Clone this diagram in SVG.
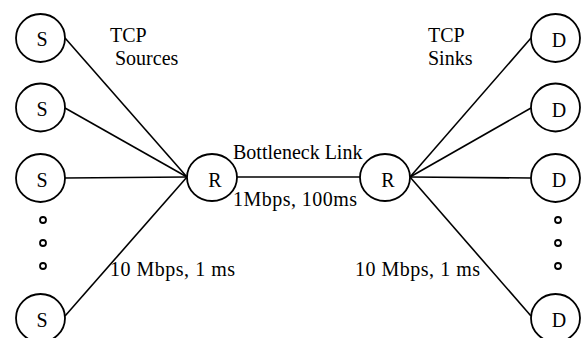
<svg xmlns="http://www.w3.org/2000/svg" width="581" height="338" viewBox="0 0 581 338">
<style>
.n{fill:#fff;stroke:#000;stroke-width:1.8}
.d{fill:#fff;stroke:#000;stroke-width:1.8}
.e{stroke:#000;stroke-width:1.6;fill:none}
.t{font-family:'Liberation Serif','Times New Roman','DejaVu Serif',serif;font-size:20px;fill:#000}
.c{text-anchor:middle}
</style>
<rect width="581" height="338" fill="#fff"/>
<g id="connectors">
<line class="e" x1="65" y1="38" x2="187" y2="177"/>
<line class="e" x1="65" y1="108" x2="187" y2="177"/>
<line class="e" x1="65" y1="178" x2="187" y2="177"/>
<line class="e" x1="65" y1="316" x2="187" y2="177"/>
<line class="e" x1="237" y1="177" x2="360" y2="177"/>
<line class="e" x1="410" y1="177" x2="531" y2="38"/>
<line class="e" x1="410" y1="177" x2="531" y2="108"/>
<line class="e" x1="410" y1="177" x2="531" y2="178"/>
<line class="e" x1="410" y1="177" x2="531" y2="316"/>
</g>
<g class="t" font-family="Liberation Serif, serif">
<g id="s1"><ellipse class="n" cx="40.5" cy="38" rx="24.5" ry="24"/><text class="c" x="42" y="46">S</text></g>
<g id="s2"><ellipse class="n" cx="40.5" cy="107.5" rx="24.5" ry="24"/><text class="c" x="42" y="116">S</text></g>
<g id="s3"><ellipse class="n" cx="40.5" cy="178" rx="24.5" ry="24"/><text class="c" x="42" y="186.5">S</text></g>
<g id="s4"><ellipse class="n" cx="40.5" cy="318" rx="24.5" ry="24"/><text class="c" x="42" y="326.5">S</text></g>
<g id="dots-left">
<circle class="d" cx="43" cy="220" r="3"/>
<circle class="d" cx="43" cy="243" r="3"/>
<circle class="d" cx="43" cy="266" r="3"/>
</g>
<g id="r1"><ellipse class="n" cx="212" cy="177.5" rx="25" ry="23.5"/><text class="c" x="215" y="186.5">R</text></g>
<g id="r2"><ellipse class="n" cx="385" cy="177.5" rx="25" ry="23.5"/><text class="c" x="388" y="186.5">R</text></g>
<g id="d1"><ellipse class="n" cx="555.5" cy="38" rx="24.5" ry="24"/><text class="c" x="559" y="46.5">D</text></g>
<g id="d2"><ellipse class="n" cx="555.5" cy="107.5" rx="24.5" ry="24"/><text class="c" x="559" y="116.5">D</text></g>
<g id="d3"><ellipse class="n" cx="555.5" cy="178" rx="24.5" ry="24"/><text class="c" x="559" y="187">D</text></g>
<g id="d4"><ellipse class="n" cx="555.5" cy="318" rx="24.5" ry="24"/><text class="c" x="559" y="327">D</text></g>
<g id="dots-right">
<circle class="d" cx="558" cy="220" r="3"/>
<circle class="d" cx="558" cy="243" r="3"/>
<circle class="d" cx="558" cy="266" r="3"/>
</g>
<g id="labels">
<text x="110" y="42">TCP</text>
<text x="115" y="65">Sources</text>
<text x="428" y="42">TCP</text>
<text x="428" y="65">Sinks</text>
<text x="233" y="159">Bottleneck Link</text>
<text x="233" y="206" textLength="124" lengthAdjust="spacing">1Mbps, 100ms</text>
<text x="110" y="276" textLength="125" lengthAdjust="spacing">10 Mbps, 1 ms</text>
<text x="355" y="276" textLength="125" lengthAdjust="spacing">10 Mbps, 1 ms</text>
</g>
</g>
</svg>
